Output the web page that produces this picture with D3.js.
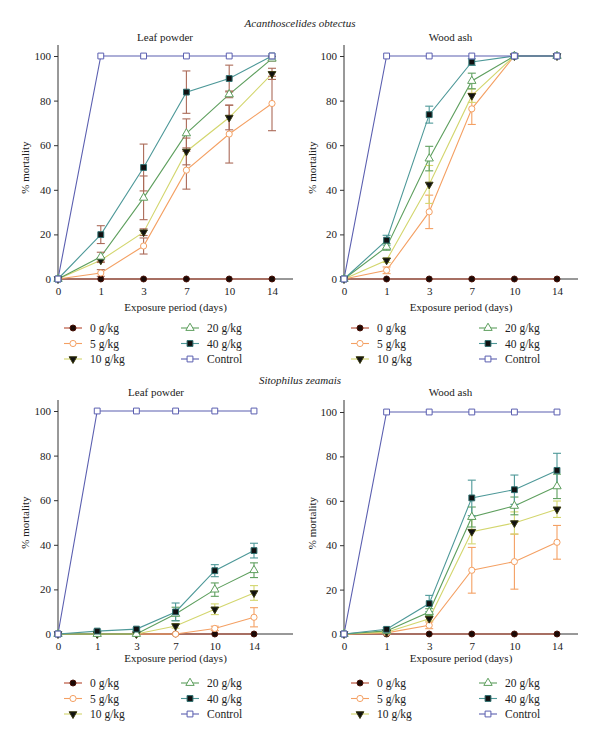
<!DOCTYPE html>
<html>
<head>
<meta charset="utf-8">
<script src="https://cdn.jsdelivr.net/npm/d3@7"></script>
<style>
  body { margin: 0; background: #fff; }
  svg, svg text { font-family: "Liberation Serif", "Times New Roman", "DejaVu Serif", serif !important; }
  svg text { fill: #222; }
</style>
</head>
<body>
<div id="chart"></div>
<script>
// exposure days (categorical x) and treatments
var days = ["0", "1", "3", "7", "10", "14"];
var doses = ["0 g/kg", "5 g/kg", "10 g/kg", "20 g/kg", "40 g/kg", "Control"];
var yTicks = [0, 20, 40, 60, 80, 100];

// Acanthoscelides obtectus - leaf powder
var aoLeafMean = [
    [0, 0, 0, 0, 0, 0],
    [0, 2.7, 14.8, 48.8, 65, 78.7],
    [0, 8.4, 21, 57.2, 72.4, 92],
    [0, 10, 36.4, 65.3, 82.8, 98.8],
    [0, 19.9, 50, 83.8, 89.9, 100],
    [0, 100, 100, 100, 100, 100]
];
var aoLeafErr = [
    [0, 0, 0, 0, 0, 0],
    [0, 1.5, 3.6, 8.5, 13, 12.2],
    [0, 1, 1.5, 6, 5.5, 2.5],
    [0, 2, 9.8, 6.5, 1.5, 1],
    [0, 4, 10.5, 9.5, 6, 0],
    [0, 0, 0, 0, 0, 0]
];

// Acanthoscelides obtectus - wood ash
var aoAshMean = [
    [0, 0, 0, 0, 0, 0],
    [0, 3.9, 30.1, 76.3, 100, 100],
    [0, 8.4, 42.4, 82.2, 100, 100],
    [0, 14.4, 54, 88.8, 100, 100],
    [0, 17.4, 73.7, 97.3, 100, 100],
    [0, 100, 100, 100, 100, 100]
];
var aoAshErr = [
    [0, 0, 0, 0, 0, 0],
    [0, 1.5, 7.5, 7, 0, 0],
    [0, 1, 8.5, 3, 0, 0],
    [0, 1.5, 5.5, 3.5, 0, 0],
    [0, 2.2, 3.8, 1.5, 0, 0],
    [0, 0, 0, 0, 0, 0]
];

// Sitophilus zeamais - leaf powder
var szLeafMean = [
    [0, 0, 0, 0, 0, 0],
    [0, 0, 0, 0, 2.5, 7.5],
    [0, 0, 0, 3.6, 11.1, 18.4],
    [0, 0, 0, 9, 19.9, 28.6],
    [0, 1.3, 2.2, 9.9, 28.4, 37.4],
    [0, 100, 100, 100, 100, 100]
];
var szLeafErr = [
    [0, 0, 0, 0, 0, 0],
    [0, 0, 0, 0, 1, 4.3],
    [0, 0, 0, 1, 2.4, 3.3],
    [0, 0, 0, 3, 3, 3.3],
    [0, 0.5, 0.5, 4, 2.7, 3.3],
    [0, 0, 0, 0, 0, 0]
];

// Sitophilus zeamais - wood ash
var szAshMean = [
    [0, 0, 0, 0, 0, 0],
    [0, 0.5, 3.9, 28.7, 32.6, 41.3],
    [0, 0.8, 6.9, 46.1, 50, 56.2],
    [0, 1.4, 9.9, 52.7, 57.7, 66.5],
    [0, 2.1, 13.7, 61.3, 65, 73.7],
    [0, 100, 100, 100, 100, 100]
];
var szAshErr = [
    [0, 0, 0, 0, 0, 0],
    [0, 0.5, 1.5, 10.3, 12.4, 7.6],
    [0, 0.5, 1, 5.5, 5, 3.7],
    [0, 0.5, 1.5, 4.5, 4, 5.5],
    [0, 0.7, 3.7, 8, 6.6, 7.7],
    [0, 0, 0, 0, 0, 0]
];

// styling per treatment
var lineColor = ["#b5472e", "#f4a063", "#d3d66e", "#5e9f5e", "#4d9898", "#5b5fb0"];
var markFill = ["#1a0905", "#fff", "#111", "#fff", "#111", "#fff"];
var markStroke = ["#4a1208", "#f4a063", "#3a3a10", "#5e9f5e", "#2f6f6f", "#5b5fb0"];
var markShape = [d3.symbolCircle, d3.symbolCircle, d3.symbolTriangle, d3.symbolTriangle, d3.symbolSquare, d3.symbolSquare];
var markSize = [28, 30, 26, 30, 34, 34];
var markRotate = [0, 0, 180, 0, 0, 0];

var svg = d3.select("#chart").append("svg")
    .attr("width", 600)
    .attr("height", 736)
    .style("font-family", "'Liberation Serif', 'Times New Roman', serif");

function symbolPath(i) {
    return d3.symbol().type(markShape[i]).size(markSize[i])();
}

function drawPanel(p) {
    var x = d3.scalePoint().domain(days).range(p.xRange);
    var y = d3.scaleLinear().domain([0, 100]).range(p.yRange);
    var g = svg.append("g");
    var y0 = y(0), x0 = x("0");

    // y axis
    var ya = g.append("g")
        .attr("transform", "translate(" + x0 + ",0)")
        .call(d3.axisLeft(y).tickValues(yTicks).tickSize(4).tickPadding(3));
    ya.attr("font-family", null);
    ya.select(".domain").remove();
    ya.selectAll("line").attr("stroke", "#333");
    ya.selectAll("text").style("font-size", "11px");
    g.append("line")
        .attr("x1", x0).attr("x2", x0)
        .attr("y1", p.axisTop).attr("y2", y0)
        .attr("stroke", "#333");

    // x axis
    var xa = g.append("g")
        .attr("transform", "translate(0," + y0 + ")")
        .call(d3.axisBottom(x).tickSize(3).tickPadding(5));
    xa.attr("font-family", null);
    xa.select(".domain").remove();
    xa.selectAll("line").attr("stroke", "#333");
    xa.selectAll("text").style("font-size", "11px");
    g.append("line")
        .attr("x1", x0).attr("x2", p.axisEnd)
        .attr("y1", y0).attr("y2", y0)
        .attr("stroke", "#333");

    // labels
    g.append("text")
        .attr("x", (p.xRange[0] + p.xRange[1]) / 2)
        .attr("y", p.titleY)
        .attr("text-anchor", "middle")
        .style("font-size", "11px")
        .text(p.title);
    g.append("text")
        .attr("x", (x0 + p.axisEnd) / 2)
        .attr("y", p.xLabelY)
        .attr("text-anchor", "middle")
        .style("font-size", "11px")
        .text("Exposure period (days)");
    g.append("text")
        .attr("transform", "translate(" + p.yLabelX + "," + ((p.yRange[0] + p.yRange[1]) / 2) + ") rotate(-90)")
        .attr("text-anchor", "middle")
        .attr("dy", "0.35em")
        .style("font-size", "11px")
        .text("% mortality");

    var line = d3.line()
        .x(function (d, i) { return x(days[i]); })
        .y(function (d) { return y(d); });

    // lines
    p.mean.forEach(function (s, k) {
        g.append("path")
            .attr("d", line(s))
            .attr("fill", "none")
            .attr("stroke", lineColor[k])
            .attr("stroke-width", 1.1);
    });

    // error bars
    p.mean.forEach(function (s, k) {
        var col = p.errColor || lineColor[k];
        s.forEach(function (v, i) {
            var e = p.err[k][i];
            if (!e) return;
            var cx = x(days[i]);
            var eb = g.append("g").attr("stroke", col).attr("stroke-width", 1.1);
            eb.append("line").attr("x1", cx).attr("x2", cx)
                .attr("y1", y(Math.min(100, v + e))).attr("y2", y(Math.max(0, v - e)));
            [v + e, v - e].forEach(function (t) {
                if (t > 100 || t < 0) return;
                eb.append("line").attr("x1", cx - 4).attr("x2", cx + 4)
                    .attr("y1", y(t)).attr("y2", y(t));
            });
        });
    });

    // markers
    p.mean.forEach(function (s, k) {
        g.selectAll(null)
            .data(s)
            .enter()
            .append("path")
            .attr("d", symbolPath(k))
            .attr("transform", function (d, i) {
                return "translate(" + x(days[i]) + "," + y(d) + ") rotate(" + markRotate[k] + ")";
            })
            .attr("fill", markFill[k])
            .attr("stroke", markStroke[k])
            .attr("stroke-width", 1);
    });

    // legend (two columns of three)
    var leg = g.append("g");
    doses.forEach(function (name, k) {
        var col = Math.floor(k / 3), row = k % 3;
        var lx = p.legendX[col], ly = p.legendY + row * 15.5;
        leg.append("line")
            .attr("x1", lx - 9).attr("x2", lx + 9)
            .attr("y1", ly).attr("y2", ly)
            .attr("stroke", lineColor[k]).attr("stroke-width", 1.1);
        leg.append("path")
            .attr("d", symbolPath(k))
            .attr("transform", "translate(" + lx + "," + ly + ") rotate(" + markRotate[k] + ")")
            .attr("fill", markFill[k])
            .attr("stroke", markStroke[k])
            .attr("stroke-width", 1);
        leg.append("text")
            .attr("x", lx + 17)
            .attr("y", ly)
            .attr("dy", "0.35em")
            .style("font-size", "11.5px")
            .text(name);
    });
}

// species headings
svg.append("text")
    .attr("x", 300).attr("y", 27)
    .attr("text-anchor", "middle")
    .style("font-size", "11px")
    .style("font-style", "italic")
    .text("Acanthoscelides obtectus");
svg.append("text")
    .attr("x", 300).attr("y", 384)
    .attr("text-anchor", "middle")
    .style("font-size", "11px")
    .style("font-style", "italic")
    .text("Sitophilus zeamais");

var panels = [
    { title: "Leaf powder", mean: aoLeafMean, err: aoLeafErr, errColor: "#ab6a58",
      xRange: [58, 272], axisEnd: 293, yRange: [279, 56], axisTop: 45,
      titleY: 41, xLabelY: 311, yLabelX: 25, legendX: [73, 190], legendY: 328 },
    { title: "Wood ash", mean: aoAshMean, err: aoAshErr,
      xRange: [344, 557], axisEnd: 578, yRange: [279, 56], axisTop: 45,
      titleY: 41, xLabelY: 311, yLabelX: 312, legendX: [360, 488], legendY: 328 },
    { title: "Leaf powder", mean: szLeafMean, err: szLeafErr,
      xRange: [58, 254], axisEnd: 293, yRange: [634, 411], axisTop: 400,
      titleY: 396, xLabelY: 662, yLabelX: 25, legendX: [73, 190], legendY: 683 },
    { title: "Wood ash", mean: szAshMean, err: szAshErr,
      xRange: [344, 557], axisEnd: 578, yRange: [634, 412], axisTop: 400,
      titleY: 396, xLabelY: 662, yLabelX: 312, legendX: [360, 488], legendY: 683 }
];

panels.forEach(drawPanel);
</script>
</body>
</html>
